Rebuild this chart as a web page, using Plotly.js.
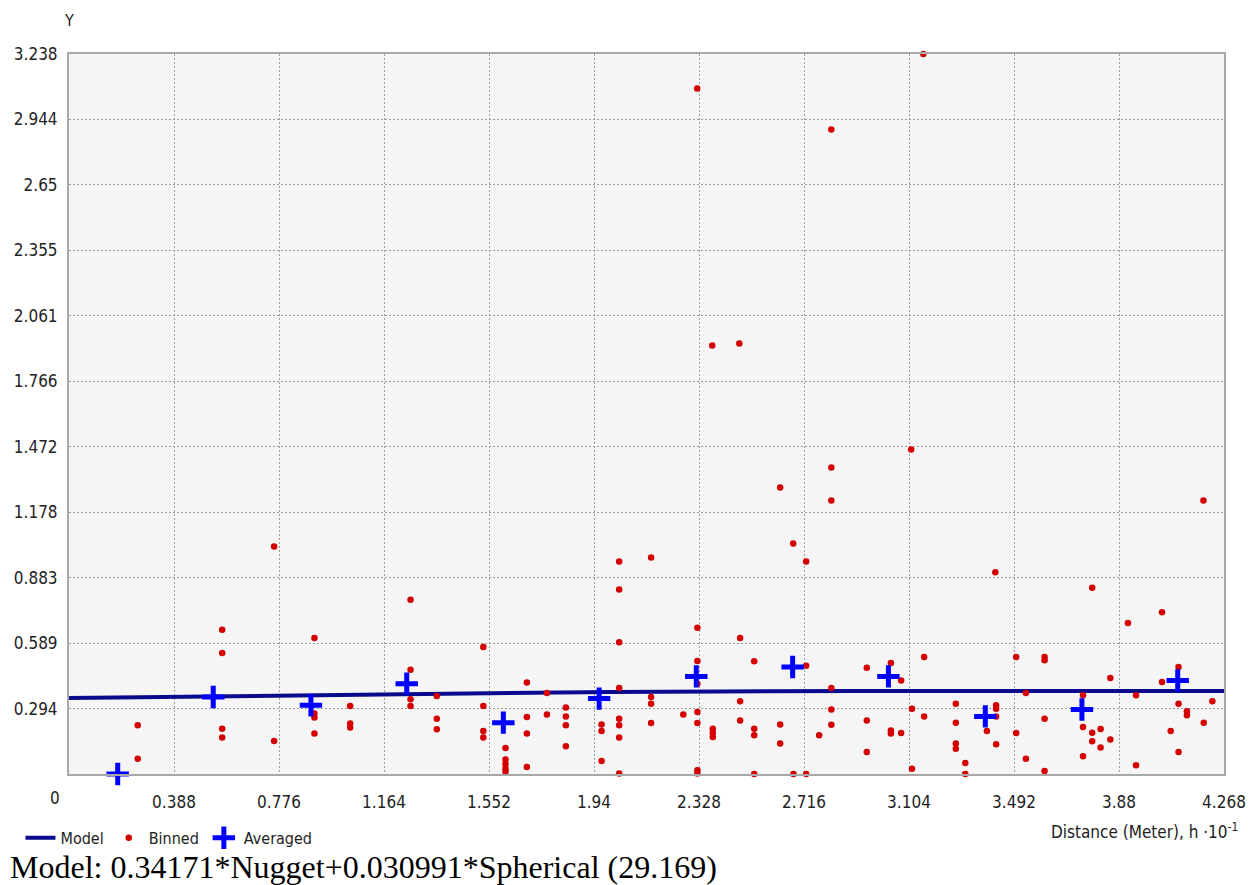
<!DOCTYPE html>
<html>
<head>
<meta charset="utf-8">
<script src="https://cdn.plot.ly/plotly-3.0.1.min.js"></script>
<style>html,body{margin:0;padding:0;background:#fff;}#chart{width:1256px;height:885px;}</style>
</head>
<body>
<div id="chart"></div>
<script>
// ---- data ----
const xTickVals = [0, 0.388, 0.776, 1.164, 1.552, 1.94, 2.328, 2.716, 3.104, 3.492, 3.88, 4.268];
const xTickText = ["0", "0.388", "0.776", "1.164", "1.552", "1.94", "2.328", "2.716", "3.104", "3.492", "3.88", "4.268"];
const yTickVals = [0.294, 0.589, 0.883, 1.178, 1.472, 1.766, 2.061, 2.355, 2.65, 2.944, 3.238];
const yTickText = ["0.294", "0.589", "0.883", "1.178", "1.472", "1.766", "2.061", "2.355", "2.65", "2.944", "3.238"];

const modelDist  = [0, 0.4, 0.8, 1.2, 1.6, 2.0, 2.4, 2.917, 4.268];
const modelGamma = [0.342, 0.348, 0.354, 0.360, 0.365, 0.369, 0.371, 0.373, 0.373];

const binnedDist = [
  2.321, 2.817, 3.157, 2.377, 2.477, 3.112, 2.817, 2.817, 2.628, 4.192, 0.758, 2.676, 2.724, 2.033, 2.151, 3.423,
  0.254, 0.254, 0.566, 0.566, 0.566, 0.566, 0.758, 0.907, 0.907, 0.907, 0.907, 1.039, 1.039, 1.039, 1.262, 1.262, 1.262, 1.262, 1.359, 1.359, 1.359,
  1.531, 1.531, 1.531, 1.531, 1.613, 1.613, 1.613, 1.613, 1.613, 1.692, 1.692, 1.692, 1.692, 1.766, 1.766, 1.836, 1.836, 1.836, 1.836,
  1.968, 1.968, 1.968, 2.033, 2.033, 2.033, 2.033, 2.033, 2.033, 2.033, 2.151, 2.151, 2.151, 2.270,
  2.322, 2.322, 2.322, 2.322, 2.322, 2.322, 2.322, 2.379, 2.379, 2.379, 2.480, 2.480, 2.480, 2.532, 2.532, 2.532, 2.532,
  2.628, 2.628, 2.677, 2.724, 2.724, 2.772, 2.817, 2.817, 2.817,
  2.948, 2.948, 2.948, 3.037, 3.037, 3.037, 3.075, 3.075, 3.160, 3.160, 3.115, 3.115, 3.277, 3.277, 3.277, 3.277, 3.312, 3.312,
  3.392, 3.426, 3.426, 3.426, 3.426, 3.500, 3.500, 3.536, 3.536, 3.605, 3.605, 3.605, 3.605, 3.747, 3.747, 3.747,
  3.781, 3.781, 3.781, 3.812, 3.812, 3.848, 3.848, 3.913, 3.943, 3.943, 4.039, 4.039, 4.071, 4.100, 4.100, 4.100, 4.131, 4.131, 4.193, 4.225
];
const binnedGamma = [
  3.083, 2.898, 3.238, 1.927, 1.936, 1.459, 1.378, 1.230, 1.289, 1.230, 1.023, 1.037, 0.956, 0.956, 0.974, 0.907,
  0.219, 0.069, 0.649, 0.544, 0.204, 0.164, 0.148, 0.612, 0.272, 0.254, 0.182, 0.306, 0.227, 0.209, 0.784, 0.469, 0.336, 0.306, 0.351, 0.249, 0.201,
  0.571, 0.306, 0.193, 0.164, 0.117, 0.065, 0.045, 0.025, 0.010, 0.412, 0.256, 0.182, 0.031, 0.364, 0.268, 0.299, 0.259, 0.219, 0.125,
  0.223, 0.193, 0.058, 0.830, 0.592, 0.387, 0.249, 0.219, 0.164, 0.002, 0.346, 0.316, 0.229, 0.268,
  0.658, 0.508, 0.406, 0.279, 0.229, 0.017, 0.002, 0.204, 0.186, 0.166, 0.612, 0.327, 0.241, 0.507, 0.204, 0.174, 0.0,
  0.223, 0.137, 0.0, 0.487, 0.0, 0.174, 0.387, 0.290, 0.222,
  0.478, 0.241, 0.099, 0.499, 0.196, 0.182, 0.421, 0.184, 0.526, 0.259, 0.294, 0.024, 0.316, 0.231, 0.137, 0.114, 0.049, 0.0,
  0.193, 0.309, 0.294, 0.259, 0.134, 0.526, 0.184, 0.364, 0.069, 0.526, 0.511, 0.249, 0.013, 0.354, 0.211, 0.080,
  0.838, 0.186, 0.147, 0.202, 0.119, 0.432, 0.155, 0.679, 0.354, 0.039, 0.727, 0.414, 0.193, 0.481, 0.316, 0.099, 0.282, 0.264, 0.231, 0.327
];

const avgDist  = [0.18, 0.533, 0.894, 1.248, 1.605, 1.959, 2.318, 2.674, 3.028, 3.386, 3.743, 4.097];
const avgGamma = [0.0, 0.346, 0.309, 0.406, 0.231, 0.339, 0.439, 0.481, 0.439, 0.259, 0.290, 0.421];

const seriesNames = ["Model", "Binned", "Averaged"];
const yTitle = "Y";
const xTitle = "Distance (Meter), h ·10<sup>-1</sup>";
const modelText = "Model: 0.34171*Nugget+0.030991*Spherical (29.169)";

// ---- chart ----
const narrow = "Liberation Sans Narrow, Arial Narrow, DejaVu Sans Condensed, sans-serif";

const traces = [
  {x: modelDist, y: modelGamma, name: seriesNames[0], type: "scatter", mode: "lines",
   line: {color: "#0a0a8c", width: 4}, cliponaxis: false},
  {x: binnedDist, y: binnedGamma, name: seriesNames[1], type: "scatter", mode: "markers",
   marker: {color: "#d40000", size: 6.5, symbol: "circle"}, cliponaxis: false},
  {x: avgDist, y: avgGamma, name: seriesNames[2], type: "scatter", mode: "markers",
   marker: {symbol: "cross-thin", size: 16, color: "#0000ff", line: {color: "#0000ff", width: 5}}, cliponaxis: false}
];

const layout = {
  width: 1256, height: 885,
  margin: {l: 69, r: 32, t: 54, b: 111},
  paper_bgcolor: "#ffffff",
  plot_bgcolor: "#f5f5f5",
  font: {family: narrow, size: 16, color: "#222"},
  xaxis: {
    range: [0, 4.268], tickmode: "array", tickvals: xTickVals.slice(1), ticktext: xTickText.slice(1),
    showgrid: true, gridcolor: "#9c9c9c", griddash: "2px,2px", gridwidth: 1,
    showline: true, linecolor: "#a8a8a8", linewidth: 2, mirror: true,
    zeroline: false, ticks: "", ticklabelstandoff: 12,
    tickfont: {family: narrow, size: 17, color: "#222"}
  },
  yaxis: {
    range: [0, 3.238], tickmode: "array", tickvals: yTickVals, ticktext: yTickText,
    showgrid: true, gridcolor: "#9c9c9c", griddash: "2px,2px", gridwidth: 1,
    showline: true, linecolor: "#a8a8a8", linewidth: 2, mirror: true,
    zeroline: false, ticks: "", ticklabelstandoff: 6,
    tickfont: {family: narrow, size: 17, color: "#222"}
  },
  showlegend: true,
  legend: {
    orientation: "h", x: -0.042, xanchor: "left", y: -0.065, yanchor: "top",
    font: {family: narrow, size: 16, color: "#222"},
    itemwidth: 30, tracegroupgap: 0, bgcolor: "rgba(0,0,0,0)"
  },
  annotations: [
    {text: yTitle, xref: "paper", yref: "paper", x: 0, y: 1, xanchor: "center", yanchor: "bottom",
     yshift: 22, showarrow: false, font: {family: narrow, size: 16, color: "#222"}},
    {text: xTickText[0], xref: "x", yref: "paper", x: xTickVals[0], y: 0, xanchor: "center", yanchor: "top",
     xshift: -14, yshift: -12, showarrow: false, font: {family: narrow, size: 17, color: "#222"}},
    {text: xTitle, xref: "paper", yref: "paper", x: 1, y: 0,
     xanchor: "right", yanchor: "top", xshift: 16, yshift: -44, showarrow: false,
     font: {family: narrow, size: 17, color: "#222"}},
    {text: modelText, xref: "paper", yref: "paper", x: 0, y: 0, xanchor: "left", yanchor: "top",
     xshift: -61, yshift: -73, showarrow: false,
     font: {family: "Liberation Serif, Times New Roman, serif", size: 32, color: "#000"}}
  ]
};

Plotly.newPlot("chart", traces, layout, {displayModeBar: false, staticPlot: true});
</script>
</body>
</html>
